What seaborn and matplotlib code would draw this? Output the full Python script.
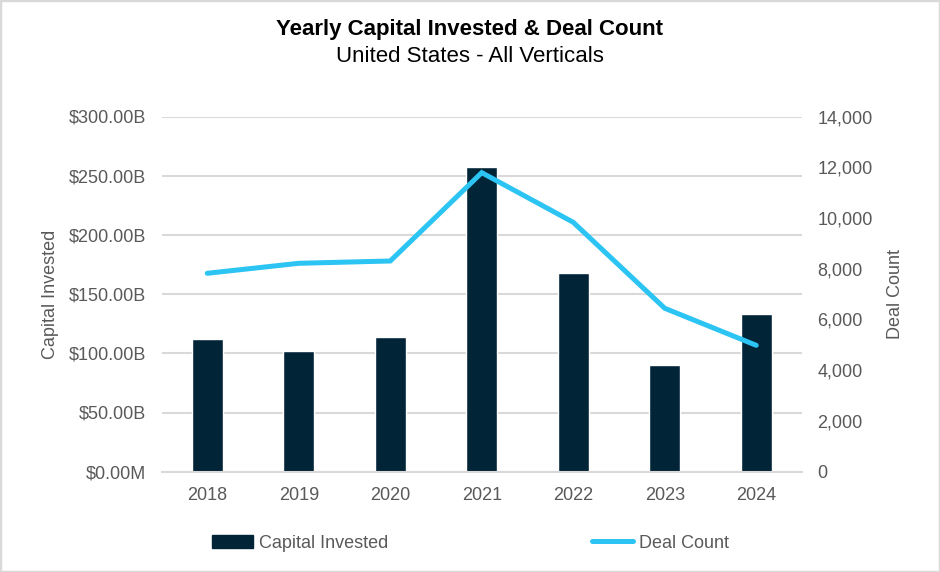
import matplotlib
matplotlib.use("Agg")
import matplotlib.pyplot as plt
import seaborn as sns
import pandas as pd
from matplotlib.patches import Patch, Rectangle
from matplotlib.lines import Line2D
from matplotlib.ticker import FuncFormatter, FixedLocator

years = ["2018", "2019", "2020", "2021", "2022", "2023", "2024"]
capital_b = [112.1, 101.9, 113.8, 257.6, 167.8, 90.1, 133.2]
deals = [7820, 8214, 8305, 11786, 9830, 6441, 4982]

left_ticks = [0, 50, 100, 150, 200, 250, 300]
right_ticks = [0, 2000, 4000, 6000, 8000, 10000, 12000, 14000]

df = pd.DataFrame({"Year": years, "Capital": capital_b, "Deals": deals})

sns.set_theme(style="white")
plt.rcParams["font.family"] = ["Liberation Sans", "DejaVu Sans"]

BAR = "#022437"
LINE = "#2BC4F3"
GRAY = "#595959"
GRID = "#D9D9D9"

fig = plt.figure(figsize=(9.4, 5.72), dpi=100)
ax = fig.add_axes([161.5 / 940, 1 - 471.7 / 572, (802 - 161.5) / 940, (471.7 - 116.5) / 572])

sns.barplot(data=df, x="Year", y="Capital", color=BAR, width=0.335, ax=ax, saturation=1)
ax.set_ylim(0, 300)
ax.set_xlim(-0.5, 6.5)
ax.yaxis.set_major_locator(FixedLocator(left_ticks))
ax.yaxis.set_major_formatter(FuncFormatter(lambda v, p: "$0.00M" if v == 0 else f"${v:.2f}B"))
ax.grid(axis="y", color=GRID, linewidth=1.5)
ax.set_axisbelow(True)
for s in ["top", "right", "left"]:
    ax.spines[s].set_visible(False)
ax.spines["bottom"].set_color(GRID)
ax.spines["bottom"].set_linewidth(1.5)
ax.tick_params(axis="both", length=0, labelsize=13, labelcolor=GRAY)
ax.tick_params(axis="y", pad=11)
ax.tick_params(axis="x", pad=11)
ax.set_xlabel("")
ax.set_ylabel("Capital Invested", fontsize=13, color=GRAY, labelpad=7)

ax2 = ax.twinx()
sns.lineplot(x=list(range(len(years))), y=deals, ax=ax2, color=LINE, linewidth=3.6,
             solid_capstyle="round", solid_joinstyle="miter")
ax2.set_ylim(0, 14000)
ax2.yaxis.set_major_locator(FixedLocator(right_ticks))
ax2.yaxis.set_major_formatter(FuncFormatter(lambda v, p: f"{int(v):,}"))
for s in ["top", "right", "left", "bottom"]:
    ax2.spines[s].set_visible(False)
ax2.tick_params(axis="y", length=0, labelsize=13, labelcolor=GRAY, pad=11)
ax2.set_ylabel("Deal Count", fontsize=13, color=GRAY, labelpad=10)
ax2.grid(False)

fig.text(0.5, 1 - 30 / 572, "Yearly Capital Invested & Deal Count", ha="center", va="center",
         fontsize=16, fontweight="bold", color="black")
fig.text(0.5, 1 - 56 / 572, "United States - All Verticals", ha="center", va="center",
         fontsize=16, color="black")

handles = [Patch(facecolor=BAR, edgecolor=BAR, label="Capital Invested"),
           Line2D([0], [0], color=LINE, linewidth=3.6, solid_capstyle="round", label="Deal Count")]
fig.legend(handles=handles, loc="center", bbox_to_anchor=(0.5003, 1 - 543 / 572), ncol=2,
           frameon=False, fontsize=13, labelcolor=GRAY, handlelength=2.3, handleheight=0.75,
           handletextpad=0.3, columnspacing=11.28)

fig.patches.append(Rectangle((0, 0), 1, 1, transform=fig.transFigure, fill=False,
                             edgecolor=GRID, linewidth=2.5))

fig.savefig("out.png", dpi=100)
